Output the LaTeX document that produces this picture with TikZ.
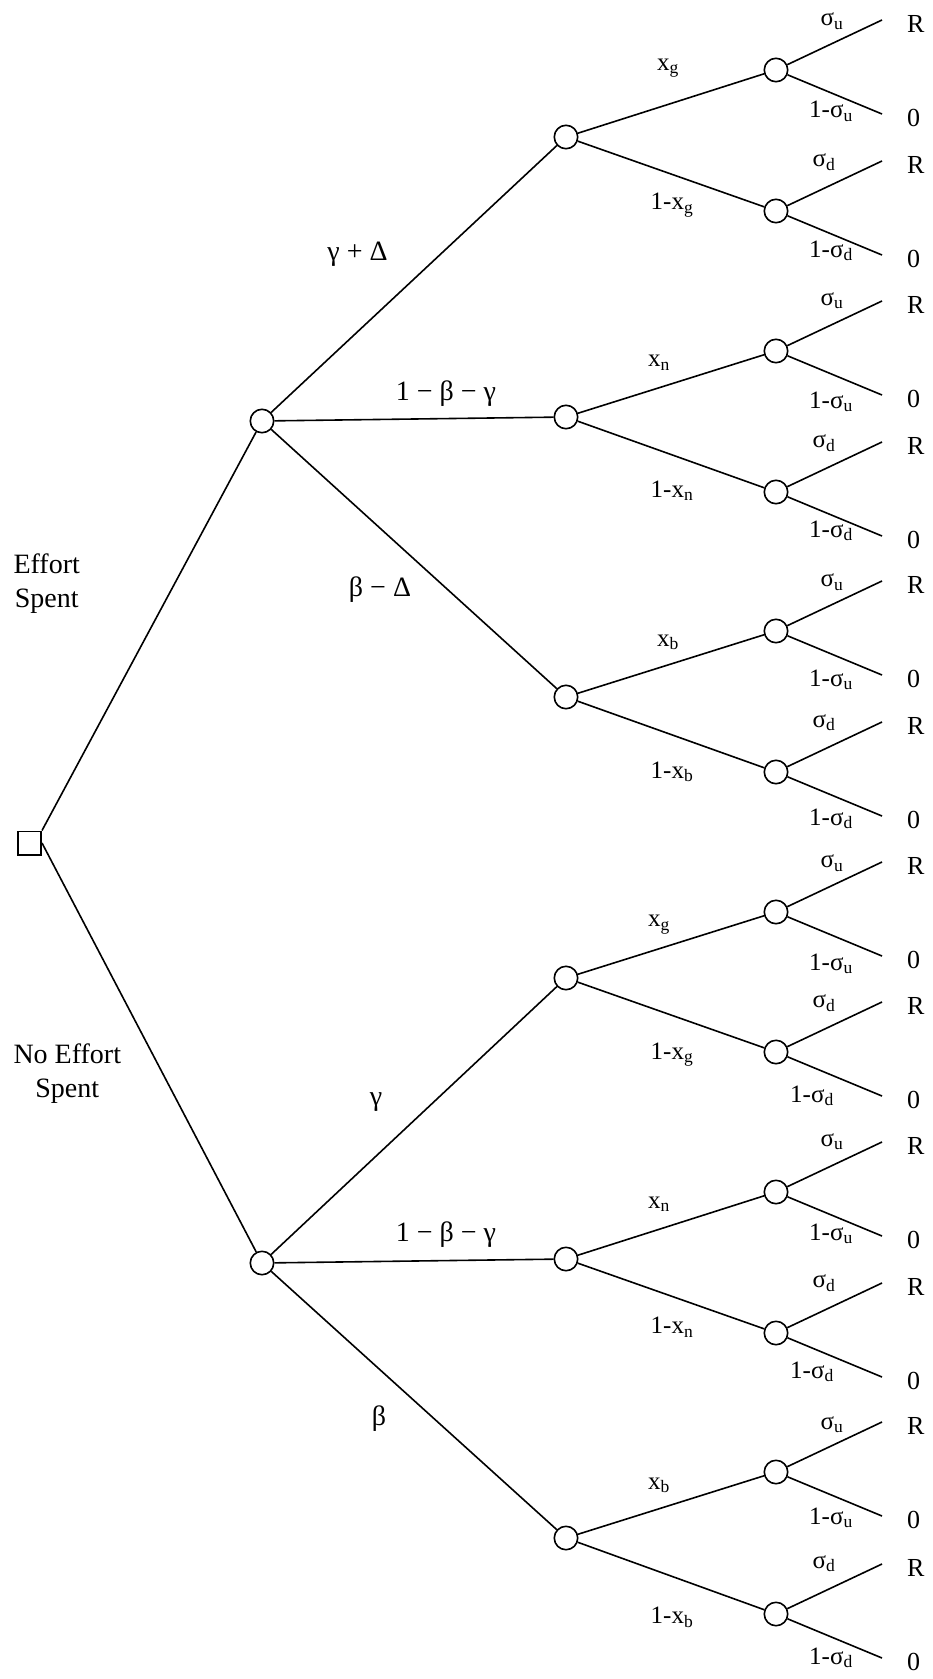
\documentclass[tikz,border=0pt]{standalone}
\usepackage{fontspec}
\setmainfont{Liberation Serif}
\tikzset{
treesq/.style={rectangle,draw=black,line width=1.6pt,fill=white,minimum size=23.4pt,inner sep=0pt},
treedot/.style={circle,draw=black,line width=1.6pt,fill=white,minimum size=23.4pt,inner sep=0pt},
treeline/.style={line width=1.6pt},
treebig/.style={font=\fontsize{28}{33.4}\selectfont,inner sep=0pt,anchor=base},
treelab/.style={font=\fontsize{25}{30}\selectfont,inner sep=0pt,anchor=base},
treeend/.style={font=\fontsize{26}{30}\selectfont,inner sep=0pt,anchor=base west}
}

\begin{document}
\begin{tikzpicture}[x=1pt,y=-1pt]
\useasboundingbox (0,0) rectangle (932,1679);
% decision node and effort branches
\node[treesq] (root) at (29.5,843) {};
\node[treedot] (e) at (262,421) {};
\node[treedot] (ne) at (262,1263) {};
\draw[treeline] (root.north east) -- (e);
\draw[treeline] (root.east) -- (ne);
\node[treebig,anchor=north west,align=center] (leff) at (13.3,554) {Effort\\Spent};
\node[treebig,anchor=north west,align=center] (lnoeff) at (13.3,1044) {No Effort\\Spent};
% type of the project
\node[treedot] (eg) at (566,137) {};
\node[treedot] (en) at (566,417) {};
\node[treedot] (eb) at (566,697) {};
\node[treedot] (ng) at (566,978) {};
\node[treedot] (nn) at (566,1259) {};
\node[treedot] (nb) at (566,1538) {};
\draw[treeline] (e) -- (eg);
\draw[treeline] (e) -- (en);
\draw[treeline] (e) -- (eb);
\draw[treeline] (ne) -- (ng);
\draw[treeline] (ne) -- (nn);
\draw[treeline] (ne) -- (nb);
\node[treebig] (le1) at (357.5,260) {γ + Δ};
\node[treebig] (le2) at (446,400) {1 − β − γ};
\node[treebig] (le3) at (380,596) {β − Δ};
\node[treebig] (ln1) at (376,1105) {γ};
\node[treebig] (ln2) at (446,1241) {1 − β − γ};
\node[treebig] (ln3) at (379,1425) {β};
% signal labels
\node[treelab] (xeg) at (668,70) {x\textsubscript{g}};
\node[treelab] (yeg) at (672,209.7) {1-x\textsubscript{g}};
\node[treelab] (xen) at (659,366.6) {x\textsubscript{n}};
\node[treelab] (yen) at (672,497) {1-x\textsubscript{n}};
\node[treelab] (xeb) at (668,646) {x\textsubscript{b}};
\node[treelab] (yeb) at (672,778) {1-x\textsubscript{b}};
\node[treelab] (xng) at (659,926.6) {x\textsubscript{g}};
\node[treelab] (yng) at (672,1059) {1-x\textsubscript{g}};
\node[treelab] (xnn) at (659,1208) {x\textsubscript{n}};
\node[treelab] (ynn) at (672,1333.6) {1-x\textsubscript{n}};
\node[treelab] (xnb) at (659,1489) {x\textsubscript{b}};
\node[treelab] (ynb) at (672,1623.6) {1-x\textsubscript{b}};
% up/down signal and payoffs
\foreach \p/\s/\y/\ax/\a/\bx/\b in {
  eg/u/70/832/-44.5/831/47.5, eg/d/211/824/-44.7/831/46,
  en/u/351/832/-46/831/57,    en/d/492/824/-44.4/831/45,
  eb/u/631/832/-44.5/831/55,  eb/d/772/824/-45/831/53,
  ng/u/912/832/-44.5/831/58,  ng/d/1052/824/-44.5/812/50,
  nn/u/1192/832/-46/831/48,   nn/d/1333/824/-45.5/812/45,
  nb/u/1472/832/-43/831/52,   nb/d/1614/824/-46/831/50}{
  \node[treedot] (\p\s) at (776,\y) {};
  \draw[treeline] (\p) -- (\p\s);
  \coordinate (\p\s R) at (882,{\y-50});
  \coordinate (\p\s Z) at (882,{\y+44});
  \draw[treeline] (\p\s) -- (\p\s R);
  \draw[treeline] (\p\s) -- (\p\s Z);
  \node[treelab] (\p\s up) at (\ax,{\y+\a}) {σ\textsubscript{\s}};
  \node[treelab] (\p\s dn) at (\bx,{\y+\b}) {1-σ\textsubscript{\s}};
  \node[treeend] (\p\s pr) at (907,{\y-37.5}) {R};
  \node[treeend] (\p\s pz) at (907,{\y+56}) {0};
}
\end{tikzpicture}
\end{document}
